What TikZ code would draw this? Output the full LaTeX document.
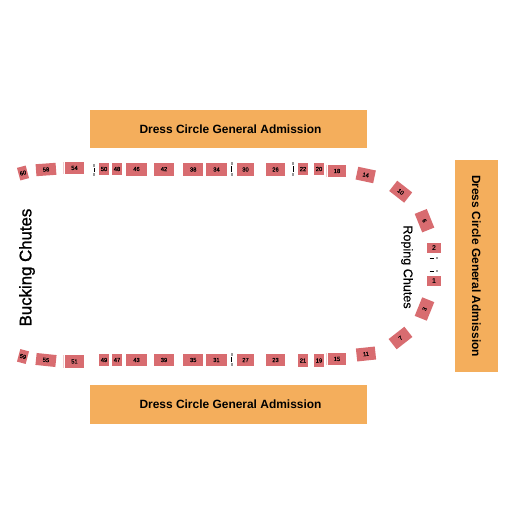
\documentclass[tikz,border=0pt]{standalone}
\usepackage{fontspec}
\setmainfont{Liberation Sans}
\newfontfamily\medfont[FakeBold=0.5]{Liberation Sans}
\newfontfamily\heavyfont[FakeBold=1.2]{Liberation Sans}
\definecolor{seatred}{HTML}{D86C70}
\definecolor{gaorange}{HTML}{F4AE5C}
\definecolor{tickgrey}{HTML}{999999}
\tikzset{
  seatbox/.style={draw=none,fill=seatred,inner sep=0pt,text=black,font=\medfont\fontsize{5.8}{6}\selectfont},
  bigseat/.style={font=\bfseries\fontsize{7}{8}\selectfont},
  gabox/.style={draw=none,fill=gaorange,inner sep=0pt,font=\bfseries\fontsize{11.95}{14}\selectfont},
  chute/.style={inner sep=0pt,text=black},
  hairline/.style={draw=seatred!35,line width=0.7pt},
  bar/.style={draw=black,line width=0.9pt},
  dot/.style={fill=tickgrey,draw=none}
}
\newcommand{\seat}[6]{\node[seatbox,minimum width=#4pt,minimum height=#5pt,rotate=#6] (s#1) at (#2,#3) {#1};}
\newcommand{\vtick}[3]{% x, y top, y bottom of the black bar
  \fill[dot] (#1-1.2,#2-3.7) rectangle (#1+1.2,#2-1.3);
  \draw[bar] (#1,#2) -- (#1,#3);
  \fill[dot] (#1-1.2,#3+1.3) rectangle (#1+1.2,#3+3.7);}
\newcommand{\htick}[1]{%
  \draw[bar] (429.5,#1) -- (434,#1);
  \fill[dot] (436,#1-1.2) rectangle (438.4,#1+1.2);}
\begin{document}
\begin{tikzpicture}[x=1pt,y=-1pt]
\useasboundingbox (0,0) rectangle (525,525);
\fill[white] (0,0) rectangle (525,525);
% general admission
\node[gabox,minimum width=277pt,minimum height=38pt] (gatop) at (228.5,129) {};
\node[gabox,minimum width=277pt,minimum height=39pt] (gabot) at (228.5,404.5) {};
\node[gabox,minimum width=43pt,minimum height=212pt] (garight) at (476.5,266) {};
\node[gabox,fill=none] (gatoptext) at (230.5,129.5) {Dress Circle General Admission};
\node[gabox,fill=none] (gabottext) at (230.5,404.5) {Dress Circle General Admission};
\node[gabox,fill=none,rotate=-90] (garighttext) at (476.5,266) {Dress Circle General Admission};
% chutes
\node[chute,rotate=90,font=\heavyfont\fontsize{16.8}{19}\selectfont] (bucking) at (27,267.5) {Bucking Chutes};
\node[chute,rotate=-90,font=\medfont\fontsize{12.6}{14}\selectfont] (roping) at (407,267) {Roping Chutes};
% top row
\seat{60}{23}{173}{9}{13}{15}
\seat{58}{46}{169.5}{20}{12}{4}
\seat{54}{74.5}{168}{19}{12}{0}
\seat{50}{104}{169}{10}{12}{0}
\seat{48}{117}{169}{10}{12}{0}
\seat{46}{136.5}{169}{21}{13}{0}
\seat{42}{164}{169}{20}{13}{0}
\seat{38}{193.2}{169.5}{20.5}{13}{0}
\seat{34}{216.5}{169.5}{21}{13}{0}
\seat{30}{245.5}{169.5}{17}{13}{0}
\seat{26}{275.5}{169.5}{19}{13}{0}
\seat{22}{303}{169}{10}{12}{0}
\seat{20}{319}{169}{10}{12}{0}
\seat{18}{337}{171}{18}{12}{0}
\seat{14}{365.7}{175}{18}{13}{-12}
% right side
\seat{10}{400.7}{191.7}{19}{13}{-38}
\seat{6}{424.5}{220.7}{20}{13}{-68}
\node[seatbox,bigseat,minimum width=14pt,minimum height=10pt] (s2) at (434,248) {2};
\node[seatbox,bigseat,minimum width=14pt,minimum height=10pt] (s1) at (434,281) {1};
\seat{3}{424.5}{309}{20}{13}{68}
\seat{7}{400.5}{338}{20}{13}{38}
% bottom row
\seat{59}{23}{356.5}{9}{13}{-15}
\seat{55}{46}{360}{20}{12}{-6}
\seat{51}{74.5}{361.5}{19}{13}{0}
\seat{49}{104}{360}{10}{12}{0}
\seat{47}{117}{360}{10}{12}{0}
\seat{43}{136.5}{360}{21}{12}{0}
\seat{39}{164}{360}{20}{12}{0}
\seat{35}{193.2}{360}{20.5}{12}{0}
\seat{31}{216.5}{360}{21}{12}{0}
\seat{27}{245.5}{360}{17}{12}{0}
\seat{23}{275.5}{360}{19}{12}{0}
\seat{21}{303}{360.5}{10}{13}{0}
\seat{19}{319}{360.5}{10}{13}{0}
\seat{15}{337}{359}{18}{12}{0}
\seat{11}{366}{354}{19}{13}{6}
% thin lines beside end sections
\draw[hairline] (63.5,162) -- (63.5,174);
\draw[hairline] (63.5,355) -- (63.5,368);
\draw[hairline] (326.7,165) -- (326.7,177);
\draw[hairline] (326.7,353) -- (326.7,365);
% small aisle marks
\vtick{94}{168}{172}
\vtick{231.7}{166}{172}
\vtick{293}{166}{172}
\vtick{231.7}{357}{362}
\htick{258}
\htick{271}
\end{tikzpicture}
\end{document}
